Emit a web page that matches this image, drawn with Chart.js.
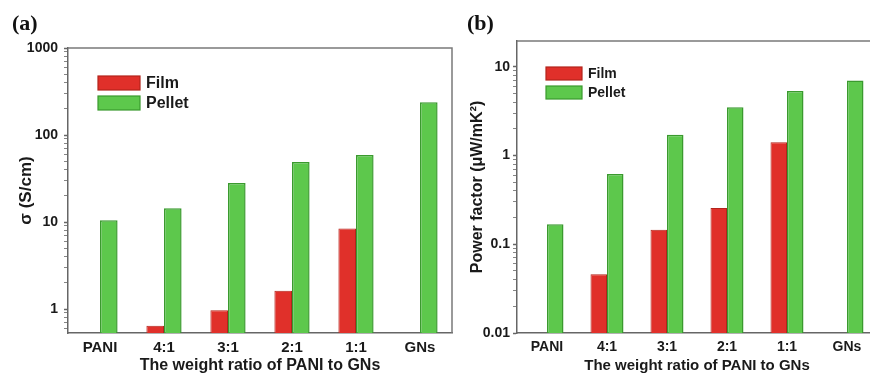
<!DOCTYPE html>
<html><head><meta charset="utf-8">
<script src="https://cdn.jsdelivr.net/npm/chart.js@4"></script>
<style>
html,body{margin:0;padding:0;background:#fff;overflow:hidden;width:870px;height:375px;}
#wa{position:absolute;left:0;top:0;width:460px;height:375px;}
#wb{position:absolute;left:455px;top:0;width:430px;height:375px;}
</style></head><body>
<div id="wa"><canvas id="ca"></canvas></div>
<div id="wb"><canvas id="cb"></canvas></div>
<script>
// ---- data ----
const categories = ['PANI', '4:1', '3:1', '2:1', '1:1', 'GNs'];
const seriesNames = ['Film', 'Pellet'];
const conductivityFilm = [null, 0.64, 0.97, 1.62, 8.4, null];
const conductivityPellet = [10.5, 14.4, 28, 49, 59, 238];
const powerFactorFilm = [null, 0.046, 0.146, 0.256, 1.41, null];
const powerFactorPellet = [0.168, 0.62, 1.71, 3.49, 5.33, 7.02];
const yTickLabelsA = [1, 10, 100, 1000];
const yTickLabelsB = [0.01, 0.1, 1, 10];
const xTitle = 'The weight ratio of PANI to GNs';

const RED = '#e0302a', RED_B = '#b3241c';
const GREEN = '#5dc84c', GREEN_B = '#3a9a2e';
const SANS = '"Liberation Sans", Arial, sans-serif';
const TXT = '#1a1a1a';

function logTicks(min, max) {
  const out = [];
  for (let e = Math.floor(Math.log10(min)); e <= Math.ceil(Math.log10(max)); e++) {
    for (let m = 1; m <= 9; m++) {
      const v = parseFloat((m * Math.pow(10, e)).toPrecision(6));
      if (v >= min && v <= max) out.push({value: v});
    }
  }
  return out;
}

const framePlugin = {
  id: 'frame',
  afterDatasetsDraw(chart) {
    const {ctx, chartArea: {left, right, top, bottom}} = chart;
    ctx.save();
    ctx.strokeStyle = '#7a7a7a';
    ctx.lineWidth = 1.5;
    ctx.beginPath();
    ctx.moveTo(left, top); ctx.lineTo(right, top); ctx.lineTo(right, bottom);
    ctx.stroke();
    ctx.restore();
  }
};

const boxLegend = {
  id: 'boxLegend',
  afterDraw(chart, args, o) {
    const {ctx, chartArea} = chart;
    ctx.save();
    chart.data.datasets.forEach((ds, i) => {
      const x = chartArea.left + o.dx, y = chartArea.top + o.dy + i * o.gap;
      ctx.fillStyle = ds.backgroundColor;
      ctx.fillRect(x, y, o.w, o.h);
      ctx.strokeStyle = ds.borderColor;
      ctx.lineWidth = 1.2;
      ctx.strokeRect(x, y, o.w, o.h);
      ctx.fillStyle = TXT;
      ctx.font = 'bold ' + o.size + 'px ' + SANS;
      ctx.textBaseline = 'middle';
      ctx.textAlign = 'left';
      ctx.fillText(ds.label, x + o.w + 6, y + o.h / 2 + 1);
    });
    ctx.restore();
  }
};

const panelLabel = {
  id: 'panelLabel',
  afterDraw(chart, args, o) {
    const ctx = chart.ctx;
    ctx.save();
    ctx.fillStyle = '#111';
    ctx.font = 'bold 22px "Liberation Serif", "Times New Roman", serif';
    ctx.textBaseline = 'alphabetic';
    ctx.textAlign = 'left';
    ctx.fillText(o.text, 12, 30);
    ctx.restore();
  }
};

function makeChart(id, cfg) {
  return new Chart(document.getElementById(id), {
    type: 'bar',
    data: {
      labels: categories,
      datasets: [
        {label: seriesNames[0], data: cfg.film, backgroundColor: RED, borderColor: RED_B, borderWidth: 1},
        {label: seriesNames[1], data: cfg.pellet, backgroundColor: GREEN, borderColor: GREEN_B, borderWidth: 1.5}
      ]
    },
    options: {
      responsive: true,
      maintainAspectRatio: false,
      animation: false,
      events: [],
      categoryPercentage: 0.55,
      barPercentage: 1.0,
      layout: {padding: {left: 0, right: cfg.padRight, top: cfg.padTop, bottom: 0}},
      plugins: {
        legend: {display: false},
        tooltip: {enabled: false},
        boxLegend: cfg.legend,
        panelLabel: {text: cfg.panel}
      },
      scales: {
        x: {
          grid: {display: false, drawTicks: false},
          border: {color: '#666', width: 1.5},
          ticks: {color: TXT, font: {family: SANS, weight: 'bold', size: cfg.xTickSize}, padding: 6, maxRotation: 0, autoSkip: false},
          title: {display: true, text: xTitle, color: TXT, font: {family: SANS, weight: 'bold', size: cfg.xTitleSize}, padding: 0},
          afterFit(s) { s.height = 42; }
        },
        y: {
          type: 'logarithmic',
          min: cfg.min, max: cfg.max,
          afterBuildTicks(s) { s.ticks = logTicks(cfg.min, cfg.max); },
          grid: {
            drawOnChartArea: false, tickLength: 4, tickColor: '#666',
            tickWidth: c => (c.tick && cfg.majors.includes(c.tick.value)) ? 1.5 : 0.8
          },
          border: {color: '#666', width: 1.5},
          ticks: {
            autoSkip: false, color: TXT, padding: cfg.yPad,
            font: {family: SANS, weight: 'bold', size: cfg.yTickSize},
            callback: v => cfg.majors.includes(v) ? String(v) : ''
          },
          title: {display: true, text: cfg.yTitle, color: TXT, font: {family: SANS, weight: 'bold', size: cfg.yTitleSize}, padding: {top: cfg.yTitlePad, bottom: 0}},
          afterFit(s) { s.width = cfg.yWidth; }
        }
      }
    },
    plugins: [framePlugin, boxLegend, panelLabel]
  });
}

makeChart('ca', {
  film: conductivityFilm, pellet: conductivityPellet,
  min: 0.53, max: 1000, majors: yTickLabelsA,
  padTop: 48, padRight: 8, yWidth: 68, yPad: 6,
  xTickSize: 15, xTitleSize: 16, yTickSize: 14,
  yTitle: 'σ (S/cm)', yTitleSize: 17, yTitlePad: 16,
  panel: '(a)',
  legend: {dx: 30, dy: 28, w: 42, h: 14, gap: 20, size: 16}
});

makeChart('cb', {
  film: powerFactorFilm, pellet: powerFactorPellet,
  min: 0.01, max: 19.5, majors: yTickLabelsB,
  padTop: 41, padRight: 8, yWidth: 62, yPad: 3,
  xTickSize: 14, xTitleSize: 15, yTickSize: 14,
  yTitle: 'Power factor (μW/mK²)', yTitleSize: 16, yTitlePad: 13,
  panel: '(b)',
  legend: {dx: 29, dy: 26, w: 36, h: 13, gap: 19, size: 14}
});
</script>
</body></html>
